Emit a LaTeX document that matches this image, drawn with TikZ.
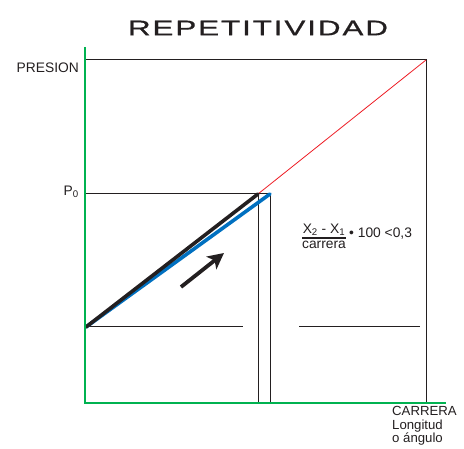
\documentclass[tikz,border=0pt]{standalone}
\usepackage{fontspec}
\setmainfont{Liberation Sans}
\newfontfamily\titlefont[LetterSpace=6,FakeBold=0.6]{Liberation Sans}
\usetikzlibrary{arrows.meta}
\definecolor{axisgreen}{RGB}{0,178,80}
\definecolor{lineblue}{RGB}{0,112,192}
\definecolor{linered}{RGB}{237,28,36}
\definecolor{ink}{RGB}{35,31,32}
\tikzset{
  thinline/.style={draw=ink, line width=1pt},
  axisline/.style={draw=axisgreen, line width=2.6pt},
  thickblack/.style={draw=ink, line width=3.6pt},
  thickblue/.style={draw=lineblue, line width=3.6pt},
  redline/.style={draw=linered, line width=0.8pt},
  lbl/.style={font=\fontsize{13.8}{14}\selectfont, text=ink, inner sep=0pt},
}
\begin{document}
\begin{tikzpicture}[x=1pt,y=-1pt]
\useasboundingbox (0,0) rectangle (464,449);
% coordinates
\coordinate (ytop) at (85,47);
\coordinate (orig) at (85,403);
\coordinate (xend) at (446,403);
\coordinate (pl) at (85,60);
\coordinate (pr) at (426,60);
\coordinate (prb) at (426,403);
\coordinate (p0l) at (85,194);
\coordinate (start) at (86,327);
\coordinate (bend) at (258,194);
\coordinate (blend) at (270,194);
\coordinate (b1) at (258,403);
\coordinate (b2) at (270,403);
\coordinate (h1) at (85,327);
\coordinate (h2) at (243,327);
\coordinate (h3) at (299,327);
\coordinate (h4) at (420,327);
\coordinate (ar1) at (181,287);
\coordinate (ar2) at (224,253);
\coordinate (fb1) at (302,238);
\coordinate (fb2) at (346,238);
% thin lines
\draw[thinline] (pl) -- (pr) -- (prb);
\draw[thinline] (p0l) -- (bend);
\draw[thinline] (bend) -- (b1);
\draw[thinline] (blend) -- (b2);
\draw[thinline] (bend) -- (blend);
\draw[thinline] (h1) -- (h2);
\draw[thinline] (h3) -- (h4);
\draw[redline] (bend) -- (pr);
% thick lines
\draw[thickblue, line cap=round] (start) -- (blend);
\draw[thickblack, line cap=round] (start) -- (bend);
% axes
\draw[axisline] (ytop) -- (orig) -- (xend);
% arrow
\draw[draw=ink, line width=3.8pt, -{Stealth[length=16pt,width=16pt,inset=4pt]}] (ar1) -- (ar2);
% title
\node[inner sep=0pt, text=ink] (title) at (258,28) {\resizebox{260pt}{14.5pt}{\titlefont REPETITIVIDAD}};
% labels
\node[lbl, anchor=east] (presion) at (79,68) {PRESION};
\node[lbl, anchor=east] (p0) at (79,192) {P\textsubscript{0}};
\node[lbl, anchor=north west, align=left, font=\fontsize{13.2}{13.6}\selectfont] (carrera) at (392,406) {CARRERA\\Longitud\\o ángulo};
% formula
\node[lbl, anchor=south] (num) at (324,236) {X\textsubscript{2} - X\textsubscript{1}};
\node[lbl, anchor=north] (den) at (324,240.5) {carrera};
\draw[draw=ink, line width=1.8pt] (fb1) -- (fb2);
\node[lbl, anchor=west] (rest) at (349,234) {\textbullet\ 100 <0,3};
\end{tikzpicture}
\end{document}
